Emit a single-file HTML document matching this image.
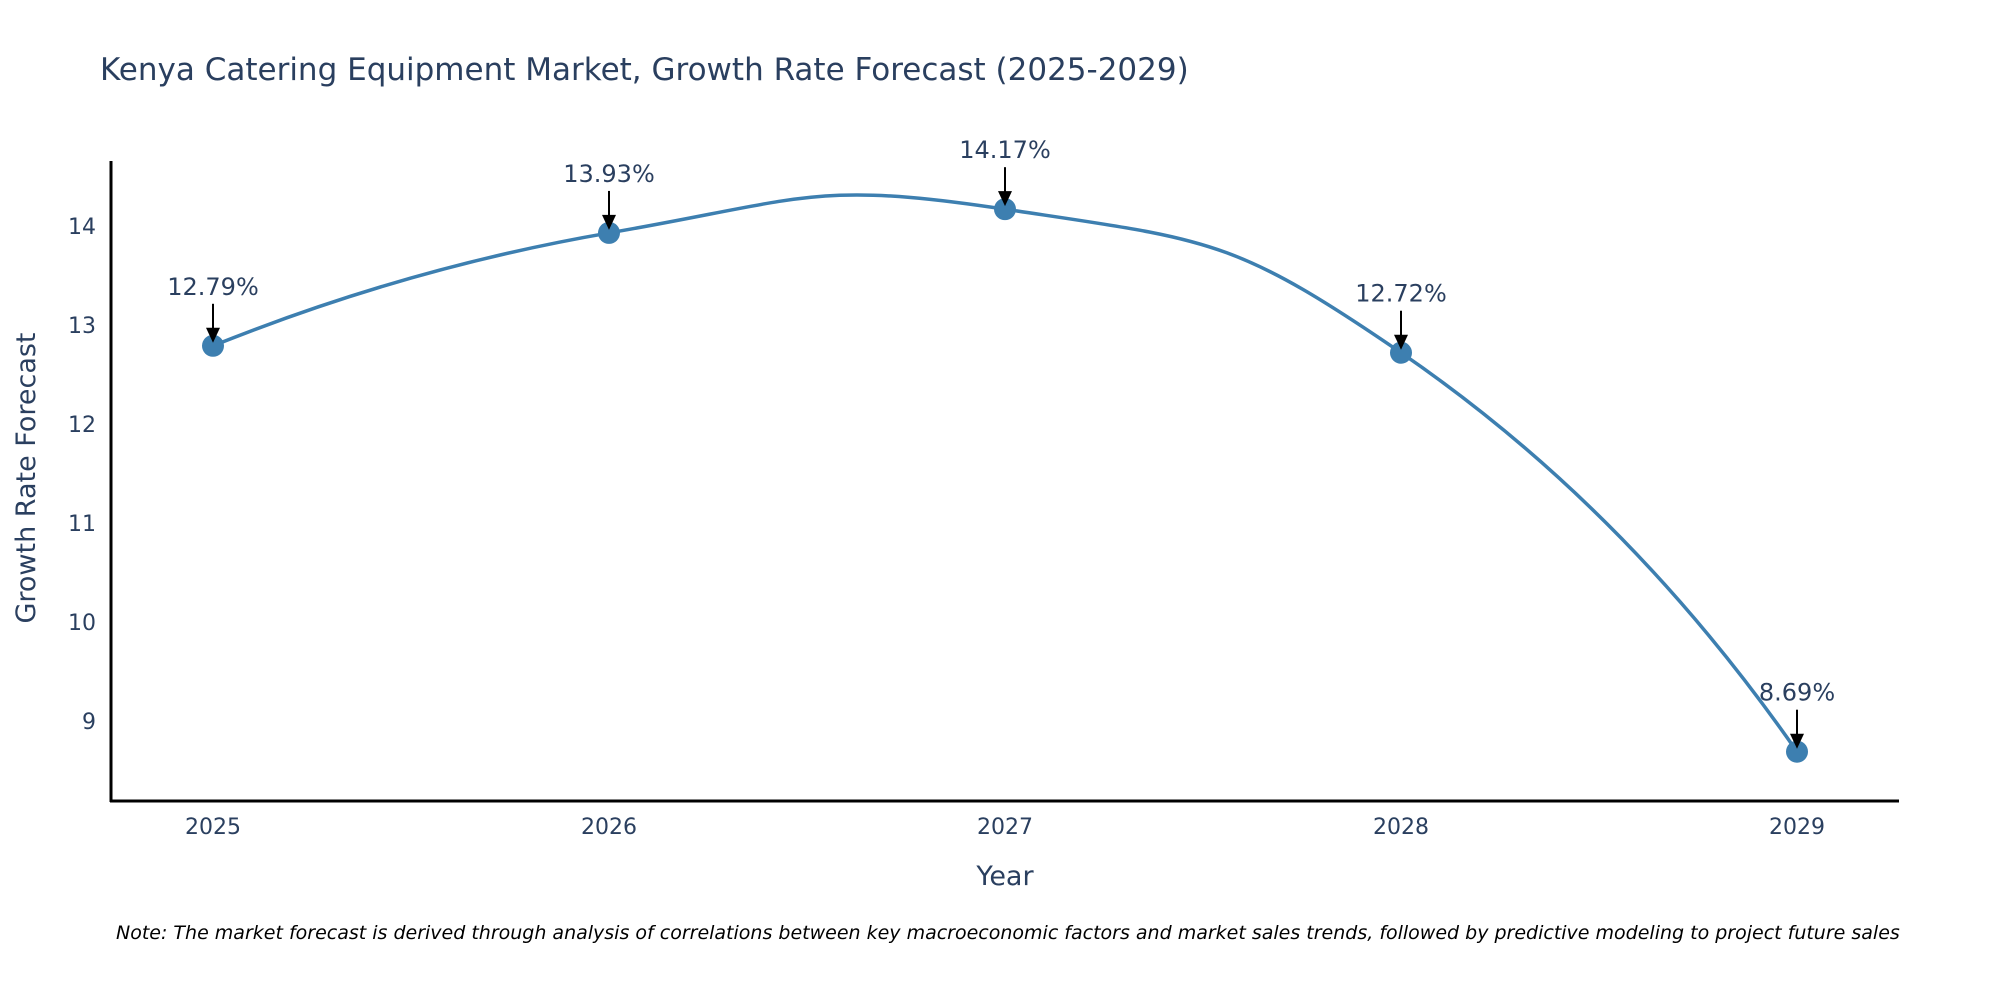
<!DOCTYPE html>
<html><head><meta charset="utf-8"><style>
body{margin:0;background:#fff;}
svg{display:block;font-family:"DejaVu Sans","Liberation Sans",sans-serif;}
</style></head><body>
<svg id="chart" width="2000" height="1000" viewBox="0 0 2000 1000">
<text x="100" y="80" font-size="31" fill="#2a3f5f">Kenya Catering Equipment Market, Growth Rate Forecast (2025-2029)</text>
<g id="yticks"></g>
<g id="xticks"></g>
<line x1="111" y1="161" x2="111" y2="802" stroke="#000" stroke-width="3"/>
<line x1="110" y1="801" x2="1899" y2="801" stroke="#000" stroke-width="3"/>
<text transform="translate(35,478) rotate(-90)" text-anchor="middle" font-size="27" fill="#2a3f5f">Growth Rate Forecast</text>
<text x="1005" y="885" text-anchor="middle" font-size="27" fill="#2a3f5f">Year</text>
<path id="line" fill="none" stroke="#3d7fb0" stroke-width="3.5"/>
<g id="points"></g>
<g id="annos"></g>
<text x="116" y="939" font-size="19" font-style="italic" fill="#000">Note: The market forecast is derived through analysis of correlations between key macroeconomic factors and market sales trends, followed by predictive modeling to project future sales</text>
</svg>
<script>
const years = [2025, 2026, 2027, 2028, 2029];
const values = [12.79, 13.93, 14.17, 12.72, 8.69];
const labels = ["12.79%", "13.93%", "14.17%", "12.72%", "8.69%"];
const yTicks = [9, 10, 11, 12, 13, 14];
const NS = "http://www.w3.org/2000/svg";
function xs(v){return 213 + (v-2025)*396;}
function ys(v){return 226 + (14-v)*99;}
function mk(tag, attrs, parent){const e=document.createElementNS(NS,tag);for(const k in attrs)e.setAttribute(k,attrs[k]);parent.appendChild(e);return e;}
const yt=document.getElementById('yticks');
yTicks.forEach(t=>{const e=mk('text',{x:96,y:ys(t)+8,'text-anchor':'end','font-size':22,fill:'#2a3f5f'},yt);e.textContent=t;

});
const xt=document.getElementById('xticks');
years.forEach(y=>{const e=mk('text',{x:xs(y),y:834,'text-anchor':'middle','font-size':22,fill:'#2a3f5f'},xt);e.textContent=y;

});
const P=years.map((y,i)=>[xs(y),ys(values[i])]);
const n=P.length, before=[], after=[];
for(let i=1;i<n-1;i++){
 const d1=Math.hypot(P[i][0]-P[i-1][0],P[i][1]-P[i-1][1]);
 const d2=Math.hypot(P[i+1][0]-P[i][0],P[i+1][1]-P[i][1]);
 const tx=P[i+1][0]-P[i-1][0], ty=P[i+1][1]-P[i-1][1];
 const a=0.5*d1/(d1+d2), b=0.5*d2/(d1+d2);
 before[i]=[P[i][0]-tx*a,P[i][1]-ty*a];
 after[i]=[P[i][0]+tx*b,P[i][1]+ty*b];
}
let d='M'+P[0]+' Q'+before[1]+' '+P[1];
for(let i=1;i<n-2;i++){d+=' C'+after[i]+' '+before[i+1]+' '+P[i+1];}
d+=' Q'+after[n-2]+' '+P[n-1];
document.getElementById('line').setAttribute('d',d);
const pts=document.getElementById('points'),an=document.getElementById('annos');
P.forEach((p,i)=>{
 const c=mk('circle',{cx:p[0],cy:p[1],r:11,fill:'#3d7fb0'},pts);
 
 
 const l=mk('line',{x1:p[0],y1:p[1]-42,x2:p[0],y2:p[1]-14,stroke:'#000','stroke-width':2},an);
 
 
 const h=mk('path',{d:`M${p[0]-7},${p[1]-18} L${p[0]+7},${p[1]-18} L${p[0]},${p[1]-3} Z`,fill:'#000'},an);
 
 
 const t=mk('text',{x:p[0],y:p[1]-51,'text-anchor':'middle','font-size':24,fill:'#2a3f5f'},an);
 t.textContent=labels[i];
 
 
});
</script>
</body></html>
